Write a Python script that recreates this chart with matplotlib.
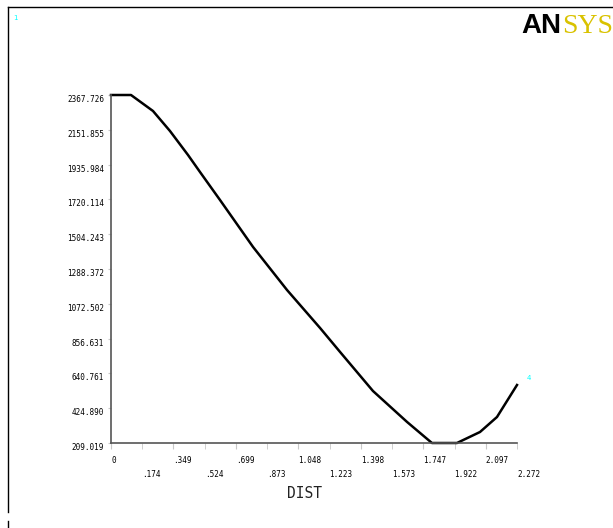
import matplotlib
matplotlib.use("Agg")
from matplotlib import pyplot as plt
from matplotlib.lines import Line2D

# path result
dist = [0, 0.112, 0.235, 0.330, 0.431, 0.498, 0.610, 0.795, 0.985,
        1.170, 1.282, 1.466, 1.657, 1.796, 1.936, 2.065, 2.160, 2.272]
value = [2367.7, 2367.7, 2268.5, 2144.5, 1995.5, 1890.1, 1716.4, 1424.9, 1158.1,
         922.4, 773.5, 531.6, 339.3, 209.0, 209.0, 277.3, 370.3, 568.8]

y_labels = ["209.019", "424.890", "640.761", "856.631", "1072.502", "1288.372",
            "1504.243", "1720.114", "1935.984", "2151.855", "2367.726"]
x_even_pos = [0, 0.3495, 0.6991, 1.0486, 1.3982, 1.7477, 2.0972]
x_even_labels = ["0", ".349", ".699", "1.048", "1.398", "1.747", "2.097"]
x_odd_pos = [0.1748, 0.5243, 0.8738, 1.2234, 1.5729, 1.9225, 2.272]
x_odd_labels = [".174", ".524", ".873", "1.223", "1.573", "1.922", "2.272"]

mono = "DejaVu Sans Mono"

fig = plt.figure(figsize=(6.13, 5.28), dpi=100)
ax = fig.add_axes([111 / 613, 1 - 443 / 528, 406 / 613, 348 / 528])

ax.plot(dist, value, color="black", lw=1.8, clip_on=False, solid_joinstyle="round")

y_pos = [float(s) for s in y_labels]
ax.set_xlim(0, 2.272)
ax.set_ylim(y_pos[0], y_pos[-1])
ax.set_yticks(y_pos)
ax.set_yticklabels(y_labels, fontsize=5.5, family=mono, va="top")
ax.set_xticks(x_even_pos)
ax.set_xticklabels(x_even_labels, fontsize=5.5, family=mono, ha="left")
ax.set_xticks(x_odd_pos, minor=True)
ax.set_xticklabels(x_odd_labels, minor=True, fontsize=5.5, family=mono, ha="left")

ax.tick_params(axis="y", length=2.5, color="#c8c8c8", pad=2.5)
ax.tick_params(axis="x", which="major", length=4, color="#c8c8c8", pad=5.5)
ax.tick_params(axis="x", which="minor", length=4, color="#c8c8c8", pad=15.5)

for s in ["top", "right"]:
    ax.spines[s].set_visible(False)
for s in ["left", "bottom"]:
    ax.spines[s].set_color("#555555")
    ax.spines[s].set_linewidth(1.2)

fig.text(304 / 613, 1 - 493 / 528, "DIST", fontsize=10.5, family=mono,
         ha="center", va="center", color="#222222")

# outer window frame
fig.add_artist(Line2D([8 / 613, 8 / 613], [1 - 7 / 528, 1 - 512 / 528],
                      color="black", lw=1.0, transform=fig.transFigure))
fig.add_artist(Line2D([8 / 613, 1], [1 - 7 / 528, 1 - 7 / 528],
                      color="black", lw=1.0, transform=fig.transFigure))
fig.add_artist(Line2D([8 / 613, 8 / 613], [1 - 521 / 528, 1 - 527 / 528],
                      color="black", lw=1.0, transform=fig.transFigure))

# window number and end node number
fig.text(13 / 613, 1 - 18 / 528, "1", fontsize=5, color="cyan", va="center")
fig.text(527 / 613, 1 - 378 / 528, "4", fontsize=5, color="cyan", va="center")

# ANSYS logo
fig.text(521 / 613, 1 - 33 / 528, "AN", fontsize=20, family="Liberation Sans",
         weight="bold", color="black", va="baseline")
fig.text(562 / 613, 1 - 33 / 528, "SYS", fontsize=20, family="Liberation Serif",
         color="#d9c200", va="baseline")

fig.savefig("out.png", dpi=100)
